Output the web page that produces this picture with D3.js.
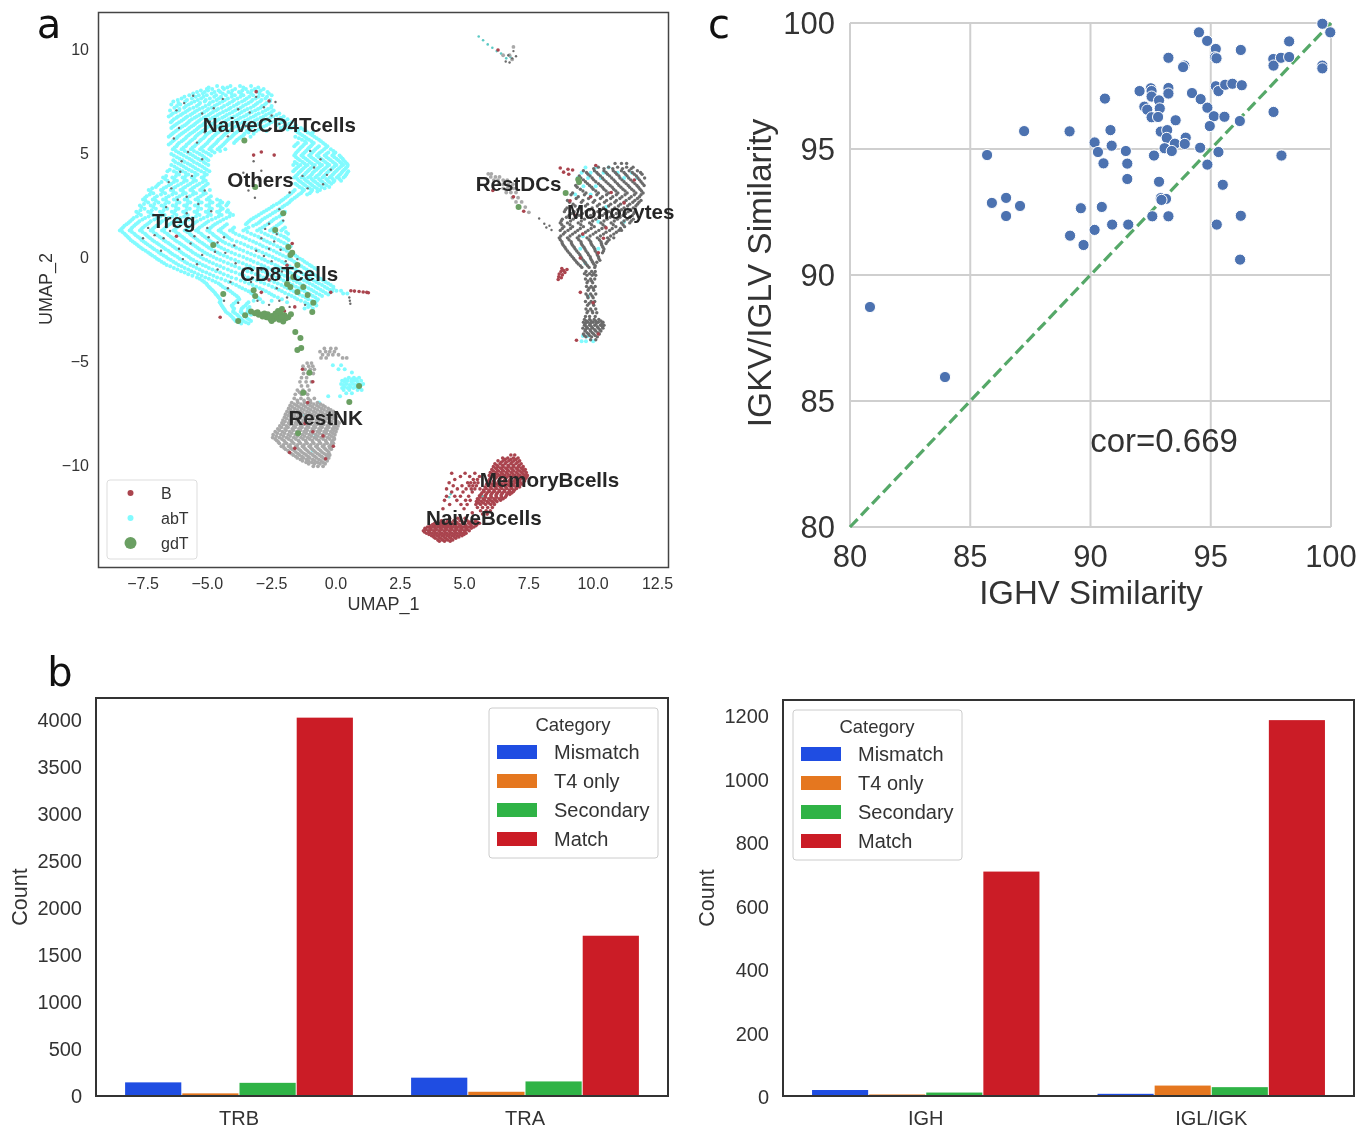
<!DOCTYPE html>
<html><head><meta charset="utf-8">
<script src="https://cdn.jsdelivr.net/npm/d3@7"></script>
<style>html,body{margin:0;background:#fff}svg{display:block;filter:blur(.45px)}</style></head>
<body><svg id="c" width="1368" height="1129"></svg>
<script>
// ---- panel a: UMAP points, as rows [y, x, x, ...]
const abTRows=[
[8.22,-4.62,-4.1,-3.73,-3.3],[8.08,-5.02,-4.81,-4.35,-3.92,-3.5,-3.15,-2.81],[7.93,-5.4,-5.1,-4.72,-4.5,-4.18,-3.77,-3.42,-3.05,-2.66],
[7.78,-5.7,-5.33,-5.02,-4.66,-4.28,-3.93,-3.6,-3.22,-2.85,-2.5],[7.62,-6.0,-5.6,-5.24,-4.9,-4.55,-4.2,-3.83,-3.47,-3.12,-2.74],
[7.47,-6.32,-5.86,-5.5,-5.1,-4.78,-4.41,-4.03,-3.65,-3.3,-2.95,-2.57],[7.33,-6.4,-6.05,-5.72,-5.33,-4.94,-4.62,-4.22,-3.86,-3.5,-3.12,-2.76],
[7.18,-6.28,-5.9,-5.54,-5.18,-4.83,-4.44,-4.09,-3.7,-3.31,-2.93,-2.52],[7.04,-6.45,-6.1,-5.76,-5.4,-5.02,-4.66,-4.27,-3.92,-3.55,-3.14,-2.74,-2.42],
[6.9,-6.34,-5.95,-5.58,-5.22,-4.87,-4.51,-4.13,-3.75,-3.38,-3.0,-2.6,-2.2],[6.76,-6.5,-6.14,-5.78,-5.41,-5.06,-4.7,-4.33,-3.96,-3.58,-3.2,-2.82,-2.44,-2.03],
[6.62,-6.3,-5.92,-5.6,-5.25,-4.9,-4.55,-4.18,-3.8,-3.42,-3.06,-2.66,-2.25,-1.88],[6.48,-6.42,-6.1,-5.74,-5.4,-5.08,-4.72,-4.36,-4.0,-3.63,-3.27,-2.9,-2.5,-2.1,-1.72],
[6.34,-6.26,-5.88,-5.54,-5.2,-4.87,-4.52,-4.17,-3.82,-3.46,-3.1,-2.7,-2.3,-1.95,-1.56],[6.2,-6.4,-6.05,-5.7,-5.36,-5.02,-4.68,-4.34,-4.0,-3.65,-3.3,-2.9,-2.15,-1.74,-1.36],
[6.06,-6.22,-5.85,-5.5,-5.18,-4.84,-4.5,-4.16,-3.8,-3.47,-3.1,-2.7,-1.55,-1.18],[5.92,-6.36,-6.0,-5.66,-5.33,-5.0,-4.65,-4.3,-3.94,-3.55,-3.2,-1.4,-1.0],
[5.78,-6.5,-6.15,-5.8,-5.46,-5.1,-4.78,-4.42,-4.05,-3.68,-3.32,-1.58,-1.22,-.84],[5.64,-6.28,-5.92,-5.58,-5.24,-4.9,-4.56,-4.2,-3.84,-1.32,-1.05,-.66],
[5.48,-6.42,-6.1,-5.72,-5.36,-5.0,-4.66,-4.32,-3.96,-1.48,-1.16,-.86,-.5],[5.33,-6.2,-5.84,-5.5,-5.14,-4.8,-4.45,-1.62,-1.3,-.98,-.66,-.33],
[5.18,-6.34,-6.0,-5.64,-5.28,-4.92,-4.6,-4.3,-1.42,-1.1,-.8,-.46,-.2],[5.03,-6.12,-5.76,-5.4,-5.05,-4.72,-1.54,-1.22,-.92,-.62,-.3,-.02],
[4.88,-6.3,-5.92,-5.56,-5.2,-4.86,-1.62,-1.34,-1.04,-.74,-.44,-.14,.14],[4.72,-6.08,-5.7,-5.36,-5.04,-1.48,-1.18,-.88,-.58,-.28,.02,.26],
[4.57,-6.25,-5.88,-5.52,-5.14,-1.6,-1.3,-1.02,-.72,-.42,-.12,.16,.36],[4.42,-6.4,-6.02,-5.66,-5.3,-4.96,-1.66,-1.38,-1.1,-.82,-.54,-.26,.02,.28,.46],
[4.27,-6.18,-5.82,-5.46,-5.1,-1.54,-1.26,-.98,-.7,-.42,-.14,.12,.38],[4.12,-6.55,-6.3,-5.96,-5.6,-5.24,-4.92,-1.66,-1.38,-1.1,-.84,-.56,-.28,0,.26,.48],
[3.97,-6.1,-5.74,-5.38,-5.02,-1.5,-1.22,-.94,-.66,-.4,-.12,.16,.4],[3.82,-6.72,-6.36,-5.96,-5.6,-5.22,-1.62,-1.34,-1.08,-.8,-.52,-.24,.04,.3],
[3.67,-6.55,-6.18,-5.8,-5.44,-5.06,-1.44,-1.16,-.88,-.6,-.32,-.06,.2],[3.52,-6.88,-6.4,-6.02,-5.66,-5.3,-4.98,-1.58,-1.28,-1,-.72,-.44,-.18],
[3.37,-7.0,-6.6,-6.24,-5.86,-5.5,-5.14,-1.42,-1.12,-.84,-.56,-.26],[3.22,-7.28,-6.8,-6.42,-6.04,-5.66,-5.28,-4.9,-1.6,-1.24,-.92,-.62],
[3.07,-7.1,-6.64,-6.22,-5.84,-5.44,-5.06,-1.74,-1.36,-1.02],[2.92,-7.36,-6.96,-6.5,-6.08,-5.68,-5.26,-4.86,-1.88,-1.52],
[2.77,-7.5,-7.12,-6.72,-6.3,-5.88,-5.46,-5.02,-4.62,-2.05,-1.7],[2.62,-7.3,-6.9,-6.5,-6.08,-5.66,-5.22,-4.8,-4.42,-4.18,-2.2,-1.82],
[2.47,-7.62,-7.2,-6.78,-6.34,-5.9,-5.48,-5.04,-4.6,-4.26,-2.42,-2.0],[2.32,-7.44,-7,-6.56,-6.12,-5.68,-5.24,-4.82,-4.4,-2.6,-2.18],
[2.17,-7.76,-7.3,-6.84,-6.38,-5.94,-5.5,-5.06,-4.62,-4.24,-2.8,-2.36,-1.98],[2.02,-7.58,-7.12,-6.66,-6.2,-5.76,-5.3,-4.86,-4.44,-4.0,-3.0,-2.56,-2.12],
[1.87,-7.86,-7.42,-6.96,-6.5,-6.04,-5.58,-5.14,-4.68,-4.26,-3.2,-2.76,-2.32],[1.72,-8.0,-7.64,-7.2,-6.76,-6.3,-5.86,-5.4,-4.96,-4.5,-3.38,-2.94,-2.5,-2.08],
[1.57,-8.14,-7.78,-7.34,-6.9,-6.46,-6.02,-5.56,-5.12,-4.7,-4.24,-3.5,-3.1,-2.66,-2.22],[1.42,-8.28,-7.92,-7.5,-7.06,-6.62,-6.18,-5.74,-5.3,-4.86,-4.4,-3.96,-3.4,-2.86,-2.4,-1.98],
[1.27,-8.4,-8.02,-7.62,-7.2,-6.76,-6.32,-5.88,-5.44,-5,-4.56,-4.12,-3.6,-3.06,-2.56,-2.12],[1.12,-8.22,-7.84,-7.42,-7,-6.56,-6.12,-5.68,-5.24,-4.8,-4.36,-3.9,-3.3,-2.76,-2.28,-1.86],
[.97,-8.1,-7.7,-7.3,-6.86,-6.42,-5.98,-5.54,-5.1,-4.66,-4.22,-3.62,-3.02,-2.5,-2.02],[.82,-7.98,-7.56,-7.14,-6.7,-6.26,-5.82,-5.38,-4.94,-4.5,-4.04,-3.36,-2.8,-2.24,-1.84],
[.67,-7.82,-7.4,-6.96,-6.52,-6.08,-5.64,-5.2,-4.76,-4.3,-3.7,-3.1,-2.56,-2.02],[.52,-7.66,-7.22,-6.78,-6.34,-5.9,-5.46,-5.02,-4.56,-4.02,-3.42,-2.84,-2.28,-1.76],
[.37,-7.5,-7.06,-6.62,-6.18,-5.74,-5.3,-4.84,-4.34,-3.74,-3.12,-2.56,-2.04],[.22,-7.3,-6.88,-6.44,-6,-5.56,-5.1,-4.6,-4.06,-3.44,-2.86,-2.3,-1.8],
[.07,-7.14,-6.7,-6.26,-5.82,-5.36,-4.88,-4.36,-3.76,-3.16,-2.6,-2.06,-1.58],[-.08,-6.96,-6.52,-6.08,-5.64,-5.16,-4.64,-4.08,-3.46,-2.88,-2.34,-1.82,-1.4],
[-.23,-6.78,-6.32,-5.88,-5.42,-4.92,-4.36,-3.78,-3.2,-2.64,-2.1,-1.62,-1.22],[-.38,-6.58,-6.12,-5.66,-5.18,-4.64,-4.06,-3.48,-2.9,-2.36,-1.9,-1.44,-1.02],
[-.53,-6.3,-5.88,-5.42,-4.94,-4.36,-3.76,-3.2,-2.64,-2.14,-1.68,-1.24,-.84],[-.68,-6.02,-5.62,-5.18,-4.66,-4.06,-3.44,-2.86,-2.38,-1.9,-1.46,-1.02],
[-.83,-5.74,-5.36,-4.9,-4.36,-3.74,-3.12,-2.58,-2.12,-1.68,-1.26,-.86],[-.98,-5.4,-5.08,-4.62,-4.06,-3.42,-2.82,-2.3,-1.88,-1.46,-1.06,-.7],
[-1.13,-5.2,-4.8,-4.3,-3.7,-3.08,-2.56,-2.04,-1.64,-1.24,-.86,-.5],[-1.28,-5.04,-4.56,-4.02,-3.38,-2.78,-2.26,-1.8,-1.4,-1.02,-.66,-.3],
[-1.43,-4.94,-4.4,-3.76,-3.1,-2.48,-2,-1.56,-1.18,-.8,-.44,-.1],[-1.58,-4.82,-4.2,-3.52,-2.84,-2.22,-1.76,-1.34,-.96,-.6,-.24],
[-1.73,-4.7,-4.02,-3.3,-2.6,-1.98,-1.54,-1.12,-.76,-.4],[-1.88,-4.6,-3.86,-3.14,-2.4,-1.72,-1.3,-.9,-.54],
[-2.03,-4.5,-3.76,-2.95,-2.1,-1.5,-1.08,-.7],[-2.18,-4.52,-3.9,-3.4,-2.84,-1.9,-1.2,-.82],
[-2.33,-4.44,-4.05,-3.52,-1.0,-.76],[-2.48,-4.36,-3.96,-3.66,-3.42,-1.22,-.9],
[-2.63,-4.28,-4,-3.7,-3.44],[-2.78,-4.12,-3.84,-3.58,-3.3],[-2.93,-4.0,-3.72,-3.46],[-3.08,-3.9,-3.6,-3.3],[-3.2,-3.68,-3.4],
[-1.62,.02,.2],[-1.76,.28,.44],[-1.5,-.1],
[-5.8,.5,.7,.9],[-5.95,.24,.46,.72,.98],[-6.1,.2,.42,.66,.88,1.06],[-6.25,.34,.56,.78],[-6.4,.3,.52,.84,1.0],[-6.55,.4,.62],
[-5.2,-.12,.2],[-5.4,.1,.34],[-5.55,.62],[-6.7,-.3,.16],[-7.0,-.66],[-7.6,-1.24],[-9.3,-.9],[-9.6,-.3],[-8.6,-.8],
[4.3,9.7,10.1,10.6],[4.05,9.55,9.9,10.4,10.95,11.5],[3.8,9.4,9.8,10.3,11.2,11.7],[3.4,9.62,10.1],[3.0,9.3,9.9],[2.4,9.5,10.5],[1.7,10.2,11.2],[1,9.6],[.4,9.5,10.2],[-.3,9.7],[-1.9,9.8],[-3.8,9.6,9.8],[-4.05,9.55,9.72,10]];
const abTRowsMore=[
[8.15,-4.95,-4.4,-4.22,-3.6,-3.02],[8,-5.25,-4.97,-4.56,-4.03,-3.64,-3.27,-2.92],[7.86,-5.55,-5.17,-4.83,-4.4,-4.06,-3.69,-3.3,-2.97,-2.61],
[7.7,-5.89,-5.45,-5.15,-4.73,-4.47,-4.05,-3.71,-3.37,-3.01,-2.68],[7.55,-6.15,-5.79,-5.37,-5.06,-4.64,-4.32,-3.96,-3.55,-3.24,-2.89,-2.55],
[7.4,-6.12,-5.62,-5.28,-4.9,-4.52,-4.14,-3.78,-3.4,-3.05,-2.7],[7.26,-6.18,-5.83,-5.41,-5.07,-4.72,-4.35,-3.97,-3.61,-3.2,-2.87,-2.5],
[7.11,-6.08,-5.68,-5.3,-4.96,-4.58,-4.16,-3.82,-3.44,-3.03,-2.64],[6.97,-6.22,-5.85,-5.49,-5.12,-4.78,-4.39,-4.02,-3.66,-3.27,-2.85,-2.5],
[6.83,-6.41,-6.03,-5.66,-5.31,-4.95,-4.6,-4.24,-3.84,-3.48,-3.11,-2.72,-2.31],[6.69,-6.2,-5.84,-5.49,-5.14,-4.79,-4.42,-4.07,-3.7,-3.31,-2.93,-2.55,-2.14],
[6.55,-6.36,-6,-5.68,-5.32,-4.98,-4.63,-4.27,-3.9,-3.53,-3.15,-2.76,-2.36,-1.98],[6.41,-6.18,-5.8,-5.47,-5.13,-4.8,-4.45,-4.09,-3.74,-3.38,-3,-2.6,-2.2,-1.82],
[6.27,-6.33,-5.97,-5.62,-5.29,-4.95,-4.6,-4.25,-3.9,-3.55,-3.19,-2.8,-2.02,-1.62],[6.13,-6.14,-5.76,-5.42,-5.1,-4.76,-4.41,-4.07,-3.72,-3.38,-3,-1.88,-1.45,-1.26],
[5.99,-6.3,-5.93,-5.58,-5.26,-4.92,-4.58,-4.23,-3.87,-3.4,-1.48,-1.1,-.9],[5.85,-6.43,-6.08,-5.73,-5.4,-5.06,-4.71,-4.36,-4,-3.6,-1.31,-.92],
[5.71,-6.2,-5.85,-5.5,-5.16,-4.83,-4.48,-4.12,-3.76,-1.44,-1.14,-.75],[5.56,-6.35,-6,-5.66,-5.3,-4.95,-4.61,-4.26,-3.9,-1.2,-.95,-.58],
[5.41,-6.5,-6.16,-5.8,-5.44,-5.07,-4.73,-4.38,-1.55,-1.24,-.92,-.42],[5.26,-6.27,-5.92,-5.57,-5.21,-4.86,-4.52,-1.36,-1.04,-.72,-.38],
[5.1,-6.22,-5.88,-5.52,-5.16,-4.82,-4.5,-1.48,-1.16,-.86,-.54,-.1],[4.95,-6.4,-6.02,-5.66,-5.3,-4.95,-1.58,-1.28,-.98,-.68,-.37,-.08],
[4.8,-6.18,-5.8,-5.46,-5.12,-1.55,-1.26,-.96,-.66,-.36,-.06,.2],[4.65,-6.32,-5.96,-5.6,-5.26,-4.96,-1.4,-1.1,-.8,-.5,-.2,.09,.3],
[4.5,-6.13,-5.76,-5.4,-5.06,-1.52,-1.22,-.94,-.64,-.34,-.04,.22,.42],[4.35,-6.28,-5.92,-5.56,-5.2,-1.46,-1.18,-.9,-.62,-.34,-.06,.2,.44],
[4.2,-6.46,-6.08,-5.72,-5.36,-5.02,-1.6,-1.32,-1.04,-.76,-.48,-.2,.06,.32],[4.05,-6.2,-5.85,-5.48,-5.12,-1.44,-1.16,-.9,-.6,-.34,-.06,.22,.44],
[3.9,-6.6,-6.22,-5.84,-5.48,-5.12,-1.56,-1.28,-1,-.74,-.46,-.18,.1,.36],[3.75,-6.64,-6.28,-5.88,-5.52,-5.14,-1.5,-1.22,-.94,-.66,-.38,-.12,.14],
[3.6,-6.78,-6.3,-5.92,-5.56,-5.18,-1.36,-1.08,-.8,-.52,-.26,-.1],[3.45,-6.94,-6.5,-6.14,-5.76,-5.4,-5.06,-1.5,-1.2,-.92,-.64,-.36],
[3.3,-7.14,-6.7,-6.32,-5.94,-5.58,-5.2,-1.32,-1.02,-.74,-.44],[3.15,-7.2,-6.74,-6.32,-5.94,-5.55,-5.16,-1.66,-1.3,-.96,-.72],
[3,-7.24,-6.8,-6.36,-5.96,-5.56,-5.16,-1.8,-1.44,-1.12],[2.85,-7.42,-7.04,-6.6,-6.18,-5.78,-5.36,-4.94,-1.96,-1.6],
[2.7,-7.4,-7,-6.6,-6.18,-5.76,-5.34,-4.9,-4.5,-2.12,-1.76],[2.55,-7.46,-7.06,-6.64,-6.2,-5.78,-5.35,-4.92,-4.52,-4.22,-2.3,-1.9],
[2.4,-7.56,-7.1,-6.68,-6.22,-5.8,-5.36,-4.92,-4.48,-2.5,-2.08],[2.25,-7.6,-7.16,-6.7,-6.24,-5.82,-5.38,-4.94,-4.5,-4.2,-2.7,-2.26],
[2.1,-7.68,-7.2,-6.74,-6.28,-5.84,-5.4,-4.96,-4.54,-4.12,-2.9,-2.46,-2.04],[1.95,-7.74,-7.28,-6.82,-6.36,-5.9,-5.44,-5,-4.56,-4.14,-3.1,-2.66,-2.2],
[1.8,-7.92,-7.52,-7.06,-6.62,-6.16,-5.72,-5.26,-4.82,-4.38,-3.3,-2.86,-2.42],[1.65,-8.06,-7.7,-7.26,-6.82,-6.38,-5.92,-5.48,-5.04,-4.6,-3.44,-3,-2.58,-2.14],
[1.5,-8.22,-7.84,-7.42,-6.98,-6.54,-6.1,-5.64,-5.2,-4.78,-4.32,-3.22,-2.76,-2.3],[1.35,-8.34,-7.96,-7.56,-7.12,-6.68,-6.24,-5.8,-5.36,-4.92,-4.48,-4.02,-3.5,-2.96,-2.48,-2.06],
[1.2,-8.3,-7.93,-7.52,-7.1,-6.66,-6.22,-5.78,-5.34,-4.9,-4.46,-4,-3.44,-2.9,-2.42,-1.94],[1.05,-8.16,-7.78,-7.36,-6.94,-6.5,-6.06,-5.62,-5.18,-4.74,-4.28,-3.76,-3.16,-2.64,-2.14],
[.9,-8.04,-7.62,-7.22,-6.78,-6.34,-5.9,-5.46,-5.02,-4.58,-4.14,-3.5,-2.92,-2.38,-1.92],[.75,-7.9,-7.48,-7.06,-6.62,-6.18,-5.74,-5.3,-4.86,-4.4,-3.86,-3.22,-2.68,-2.14],
[.6,-7.74,-7.32,-6.88,-6.44,-6,-5.56,-5.12,-4.66,-4.16,-3.56,-2.96,-2.42,-1.9],[.45,-7.58,-7.14,-6.7,-6.26,-5.82,-5.38,-4.94,-4.46,-3.88,-3.28,-2.7,-2.16],
[.3,-7.4,-6.96,-6.52,-6.08,-5.64,-5.2,-4.72,-4.2,-3.6,-3,-2.42,-1.92],[.15,-7.22,-6.8,-6.36,-5.92,-5.46,-5,-4.5,-3.92,-3.3,-2.72,-2.18,-1.68],
[0,-7.04,-6.6,-6.16,-5.72,-5.26,-4.76,-4.22,-3.6,-3,-2.46,-1.94,-1.5],[-.15,-6.88,-6.42,-5.98,-5.54,-5.04,-4.5,-3.92,-3.32,-2.76,-2.22,-1.72,-1.3],
[-.3,-6.68,-6.22,-5.78,-5.3,-4.78,-4.2,-3.62,-3.04,-2.5,-2,-1.54,-1.12],[-.45,-6.44,-6,-5.54,-5.06,-4.5,-3.92,-3.34,-2.78,-2.26,-1.8,-1.34,-.94],
[-.6,-6.16,-5.74,-5.3,-4.8,-4.2,-3.6,-3.02,-2.5,-2.02,-1.56,-1.14,-.74],[-.75,-5.88,-5.5,-5.04,-4.5,-3.9,-3.28,-2.72,-2.24,-1.78,-1.36,-.94],
[-.9,-5.58,-5.22,-4.76,-4.2,-3.58,-2.96,-2.44,-2,-1.56,-1.14,-.78],[-1.05,-5.3,-4.94,-4.46,-3.88,-3.24,-2.68,-2.16,-1.76,-1.34,-.96,-.6],
[-1.2,-5.12,-4.68,-4.16,-3.54,-2.92,-2.4,-1.92,-1.52,-1.12,-.76,-.4],[-1.35,-5,-4.48,-3.88,-3.24,-2.62,-2.12,-1.68,-1.28,-.9,-.54,-.2],
[-1.5,-4.88,-4.3,-3.64,-2.96,-2.34,-1.88,-1.44,-1.06,-.7,-.34],[-1.65,-4.76,-4.1,-3.4,-2.72,-2.1,-1.64,-1.22,-.86,-.5,-.14],
[-1.8,-4.66,-3.94,-3.22,-2.5,-1.84,-1.42,-1,-.64,-.3],[-1.95,-4.56,-3.8,-3.04,-2.26,-1.6,-1.18,-.8],
[-2.1,-4.48,-3.84,-3.2,-2.5,-1.36,-.94,-.74],[-2.25,-4.48,-3.98,-3.46,-1.1,-.8],[-2.4,-4.4,-4.02,-3.6,-3.36,-1.08],[-2.55,-4.32,-3.98,-3.68,-3.4],[-2.7,-4.2,-3.92,-3.64,-3.36],[-2.85,-4.06,-3.78,-3.52],[-3,-3.95,-3.66,-3.38],[-3.14,-3.78,-3.5],
[-6,.34,.6,.84],[-6.15,.3,.54,.76,.98],[-6.3,.24,.46,.68,.92],[-5.88,.36,.62,.8]];
const grayDarkPts=[[-5.9,7.4],[-5.2,6.9],[-4.4,7.6],[-3.8,7.1],[-3.1,7.7],[-2.8,7.2],[-2.5,6.8],[-6.1,6.2],[-5.4,5.5],[-4.9,6.5],[-3.5,6.3],[-2.2,6.4],[-6,4.6],[-5.6,3.9],[-5.2,4.7],[-6.4,3.3],[-5.8,2.9],[-6.6,2.4],[-5.1,3.2],[-6.9,1.9],[-6.3,1.5],[-5.8,2.1],[-7.3,1.4],[-6.7,.9],[-6.1,.4],[-5.5,1],[-5,1.4],[-4.6,.7],[-4.3,.2],[-5.2,.1],[-6.8,.3],[-7.5,.9],[-3.9,-.3],[-4.6,-.6],[-2.9,.9],[-2.6,.4],[-2.3,1.1],[-2.5,-.2],[-2.9,-.6],[-2.1,-.7],[-3.3,-1.2],[-2.3,-1.5],[-4.2,-1.5],[-3.8,-2.2],[-2.2,-2.1],[-1.8,-2.4],[-1,5.1],[-.6,4.7],[-.2,4.2],[-1.3,3.9],[-.5,3.5],[-3.2,4.6],[-3,3.7],[-3.4,3.2],[-2.2,2.3],[-2.6,1.6],[.52,-1.95],[.54,-2.1],[.56,-2.25],[-2.05,1.75],[-3.1,.3],[-1.5,-.1],
[-5.55,7.75],[-4.75,7.15],[-6.2,7.05],[-2.35,7.45],[-3.35,6.95],[-6.3,5.7],[-5.75,5.05],[-6.05,4.1],[-6.5,3.6],[-5.35,2.55],[-4.85,2.2],[-6.15,2.75],[-7.05,1.05],[-6.45,1.25],[-5.65,.65],[-4.95,.95],[-4.7,.25],[-5.95,-.1],[-5.4,-.35],[-4.35,.95],[-3.95,.55],[-2.75,1.35],[-2.4,.75],[-2.15,.35],[-2.8,.05],[-2.25,-.95],[-2.7,-1.05],[-1.95,-.2],[-4.35,-2.1],[-4.1,-1.2],[-3.05,-2.1],[-2.6,-2.3],[-.85,4.3],[-.35,3.95],[-1.1,3.3],[-3.6,4.05],[-2.9,4.15],[-3.15,2.85],[-1.8,3.1],[-1.9,-1.95],[-1.2,-2.3],[-5.1,6],[-4.2,5.8],
[6.7,9.7],[6.85,9.55],[7,9.65],[6.6,9.4],[6.75,9.35],[6.9,9.9],
[7.9,1.85],[8.1,1.6],[8.3,1.5],[8.38,1.3],[8.18,1.42]];
const monoRows=[
[4.5,10.85,11.1,11.3],[4.32,10.2,10.6,10.95,11.3,11.55],[4.15,9.62,10.05,10.42,10.78,11.1,11.4,11.72],[3.98,9.8,10.2,10.56,10.92,11.26,11.6,11.9],
[3.8,9.52,9.96,10.36,10.72,11.04,11.38,11.74,12],[3.62,9.7,10.1,10.5,10.86,11.2,11.54,11.86],[3.44,9.32,9.86,10.28,10.66,11,11.36,11.7,11.98],
[3.26,9.5,10,10.42,10.8,11.16,11.5,11.82],[3.08,9.2,9.72,10.2,10.6,10.96,11.32,11.66,11.94],[2.9,9.42,9.9,10.36,10.76,11.12,11.48,11.8],
[2.72,9,9.6,10.06,10.52,10.9,11.28,11.62,11.86],[2.54,9.22,9.78,10.24,10.68,11.06,11.42,11.72],[2.36,8.98,9.5,9.96,10.4,10.84,11.2,11.56],
[2.18,8.88,9.26,9.72,10.18,10.6,11,11.36,11.62],[2,9.06,9.46,9.9,10.36,10.78,11.16,11.52],[1.82,8.8,9.22,9.66,10.1,10.54,10.94,11.32,11.56],
[1.64,8.72,9,9.42,9.86,10.3,10.7,11.1,11.42],[1.46,8.86,9.2,9.62,10.04,10.46,10.88,11.22],[1.28,8.72,9.02,9.4,9.8,10.22,10.64,11,11.1],
[1.1,8.84,9.2,9.58,10,10.4,10.8],[.92,8.68,9,9.38,9.76,10.16,10.56,10.8],[.74,8.78,9.14,9.52,9.9,10.3,10.55],[.56,8.84,9.2,9.58,9.96,10.34],
[.38,8.94,9.3,9.68,10.06,10.42],[.2,9.06,9.42,9.78,10.14,10.36],[.02,9.18,9.52,9.88,10.2],[-.16,9.3,9.62,9.94,10.26],[-.34,9.42,9.72,10.02],[-.5,9.56,9.84,10.06],
[-.7,9.72,9.94,10.08],[-.88,9.76,9.96,10.1],[-1.06,9.7,9.9,10.06],[-1.24,9.76,9.98],[-1.42,9.74,9.92,10.08],[-1.6,9.8,10.02],[-1.78,9.72,9.9,10.1],
[-1.96,9.8,10],[-2.14,9.7,9.92,10.06],[-2.32,9.78,10.02],[-2.5,9.72,9.9,10.1],[-2.68,9.76,9.98,10.14],[-2.86,9.7,9.86,10.08],[-3,9.66,9.86,10.04,10.22],
[-3.14,9.62,9.8,10,10.2,10.38],[-3.28,9.66,9.86,10.06,10.28,10.42],[-3.42,9.6,9.78,9.98,10.2,10.38],[-3.56,9.68,9.9,10.1,10.3],[-3.7,9.62,9.82,10.02,10.24],[-3.84,9.72,9.94,10.16],[-3.98,9.9,10.1],
[4.25,10.02,10.42,10.76,11.14,11.48],[4.06,9.74,10.14,10.5,10.86,11.2,11.52,11.84],[3.9,9.46,9.88,10.28,10.64,11,11.32,11.68],[3.71,9.62,10.02,10.42,10.8,11.12,11.46,11.8],[3.53,9.44,9.78,10.2,10.58,10.94,11.28,11.62,11.92],
[3.35,9.38,9.94,10.36,10.74,11.08,11.42,11.76],[3.17,9.6,10.1,10.5,10.88,11.24,11.58,11.88],[2.99,9.14,9.66,10.14,10.52,10.9,11.24,11.6,11.86],[2.81,9.34,9.82,10.28,10.68,11.04,11.4,11.72],[2.63,9.08,9.54,10,10.44,10.84,11.2,11.54,11.78],
[2.45,9.3,9.7,10.16,10.6,10.98,11.34,11.66],[2.27,8.92,9.4,9.86,10.3,10.74,11.1,11.46],[2.09,9.16,9.58,10.02,10.46,10.9,11.26,11.58],[1.91,8.96,9.34,9.8,10.22,10.66,11.04,11.42],[1.73,8.76,9.12,9.54,9.98,10.42,10.82,11.2,11.48],
[1.55,8.78,9.1,9.52,9.94,10.38,10.78,11.16],[1.37,8.8,9.12,9.5,9.92,10.34,10.74,11.06],[1.19,8.9,9.3,9.7,10.1,10.5,10.9],[1.01,8.74,9.1,9.46,9.88,10.28,10.68],[.83,8.72,9.06,9.44,9.84,10.24,10.62],
[.65,8.8,9.16,9.54,9.92,10.32,10.5],[.47,8.9,9.26,9.64,10.02,10.38],[.29,9,9.36,9.72,10.08,10.4],[.11,9.12,9.48,9.82,10.16],[-.07,9.24,9.56,9.9,10.22],[-.25,9.36,9.68,9.98,10.14],[-.42,9.5,9.78,10.08],
[-.8,9.66,9.86,10.02],[-1.15,9.8,9.94],[-1.5,9.84,10],[-1.87,9.78,9.96],[-2.23,9.84,10],[-2.6,9.8,9.96],[-3.08,9.74,9.92,10.1,10.3],[-3.2,9.7,9.9,10.12,10.34],[-3.35,9.74,9.94,10.16,10.36],[-3.5,9.7,9.88,10.06,10.26],[-3.64,9.76,9.96,10.18],[-3.78,9.66,9.86,10.08]];
const nkRows=[
[-4.4,-.45,-.2,0],[-4.55,-.62,-.4,-.24,-.06],[-4.7,-.52,-.3,-.12,.1],[-4.85,-.58,-.38,.26,.42],
[-5.1,-1.12,-.95],[-5.25,-1.28,-1.06,-.9],[-5.4,-1.2,-1,-.84],[-5.6,-1.26,-1.08,-.88],[-5.8,-1.34,-1.14],[-6,-1.4,-1.16,-.95],[-6.2,-1.34,-1.1],[-6.4,-1.5,-1.28,-1.04],[-6.6,-1.58,-1.34,-1.1],[-6.8,-1.62,-1.36,-1.08,-.84],
[-7,-1.72,-1.48,-1.22,-.98,-.72],[-7.14,-1.78,-1.52,-1.26,-1,-.74,-.5],[-7.28,-1.84,-1.6,-1.34,-1.08,-.82,-.56,-.3],[-7.42,-1.9,-1.64,-1.38,-1.12,-.86,-.6,-.34,-.1],
[-7.56,-1.96,-1.7,-1.44,-1.18,-.92,-.66,-.4,-.14],[-7.7,-2,-1.74,-1.48,-1.22,-.96,-.7,-.44,-.18,.02],[-7.84,-2.06,-1.8,-1.54,-1.28,-1.02,-.76,-.5,-.24,0],
[-7.98,-2.1,-1.84,-1.58,-1.32,-1.06,-.8,-.54,-.28,-.02,.12],[-8.12,-2.18,-1.92,-1.64,-1.38,-1.12,-.86,-.6,-.34,-.08,.08],[-8.26,-2.26,-1.98,-1.7,-1.44,-1.18,-.92,-.66,-.4,-.14,.04],
[-8.4,-2.36,-2.08,-1.8,-1.52,-1.24,-.98,-.72,-.46,-.2,0],[-8.54,-2.44,-2.14,-1.86,-1.58,-1.3,-1.04,-.78,-.52,-.26,-.04],[-8.68,-2.46,-2.2,-1.92,-1.64,-1.36,-1.1,-.84,-.58,-.32,-.08],
[-8.82,-2.3,-2.02,-1.74,-1.46,-1.18,-.92,-.66,-.4,-.12],[-8.96,-2.2,-1.92,-1.64,-1.38,-1.12,-.86,-.6,-.34,-.1],[-9.1,-2.12,-1.84,-1.56,-1.3,-1.04,-.78,-.52,-.26,-.14],
[-9.24,-1.96,-1.7,-1.44,-1.18,-.92,-.66,-.4,-.18],[-9.38,-1.82,-1.56,-1.32,-1.06,-.8,-.54,-.28],[-9.52,-1.66,-1.42,-1.16,-.9,-.64,-.38,-.24],
[-9.66,-1.5,-1.26,-1.02,-.76,-.5,-.28],[-9.8,-1.3,-1.06,-.82,-.58,-.34],[-9.94,-1.06,-.84,-.62,-.42],[-10.06,-.88,-.7,-.5],
[-7.07,-1.62,-1.36,-1.1,-.86,-.6],[-7.21,-1.7,-1.44,-1.18,-.92,-.66,-.42],[-7.35,-1.76,-1.5,-1.24,-.98,-.72,-.46,-.2],[-7.49,-1.82,-1.56,-1.3,-1.04,-.78,-.52,-.26],[-7.63,-1.86,-1.6,-1.34,-1.08,-.82,-.56,-.3,-.06],[-7.77,-1.92,-1.66,-1.4,-1.14,-.88,-.62,-.36,-.1],
[-7.91,-1.98,-1.72,-1.46,-1.2,-.94,-.68,-.42,-.16,.06],[-8.05,-2.04,-1.78,-1.52,-1.26,-1,-.74,-.48,-.22,.02],[-8.19,-2.12,-1.86,-1.58,-1.32,-1.06,-.8,-.54,-.28,-.04],[-8.33,-2.2,-1.94,-1.66,-1.38,-1.12,-.86,-.6,-.34,-.08],[-8.47,-2.28,-2,-1.72,-1.44,-1.16,-.9,-.64,-.38,-.12],[-8.61,-2.32,-2.04,-1.78,-1.5,-1.22,-.96,-.7,-.44,-.18],
[-8.75,-2.36,-2.1,-1.84,-1.56,-1.28,-1.02,-.76,-.5,-.24,-.06],[-8.89,-2.24,-1.98,-1.7,-1.42,-1.16,-.9,-.64,-.38,-.16],[-9.03,-2.04,-1.78,-1.5,-1.24,-.98,-.72,-.46,-.2],[-9.17,-2.02,-1.76,-1.5,-1.24,-.98,-.72,-.46,-.24],[-9.31,-1.86,-1.62,-1.38,-1.12,-.86,-.6,-.34],[-9.45,-1.74,-1.48,-1.24,-.98,-.72,-.46,-.28],[-9.59,-1.56,-1.32,-1.08,-.82,-.56,-.32],[-9.73,-1.38,-1.14,-.9,-.66,-.42],[-9.87,-1.16,-.94,-.72,-.5],[-6.5,-1.42,-1.2],[-6.9,-1.5,-1.24,-1],
[4,5.92,6.04],[3.85,6.02,6.2,6.36],[3.7,6.14,6.3,6.5,6.66],[3.5,6.32,6.5,6.7,6.88],[3.3,6.5,6.68,6.9],[3.1,6.62,6.8,7],[2.85,6.86,7.08],[2.65,7,7.22],[2.4,7.36],[2.15,7.5],
[10.1,6.9],[9.7,6.5,6.75],[9.5,6.85]];
const bRows=[
[-9.52,6.8,6.95],[-9.66,6.48,6.68,6.9,7.08],[-9.8,6.3,6.5,6.72,6.92,7.14],[-9.94,6.18,6.38,6.58,6.8,7,7.2],[-10.08,6.12,6.3,6.5,6.7,6.9,7.1,7.28],
[-10.22,6.06,6.26,6.46,6.66,6.86,7.06,7.26,7.36],[-10.36,6,6.22,6.42,6.62,6.82,7.02,7.22,7.4],[-10.5,5.96,6.16,6.36,6.56,6.76,6.96,7.16,7.36,7.44],
[-10.64,6,6.2,6.4,6.6,6.8,7,7.2,7.38],[-10.78,5.92,6.12,6.32,6.52,6.72,6.92,7.12,7.32],[-10.92,5.86,6.06,6.26,6.46,6.66,6.86,7.06,7.24],
[-11.06,5.8,6,6.2,6.4,6.6,6.8,7,7.14],[-11.2,5.74,5.94,6.14,6.34,6.54,6.74,6.94],[-11.34,5.68,5.88,6.08,6.28,6.48,6.68,6.84],
[-11.48,5.58,5.8,6.02,6.22,6.42,6.62],[-11.62,5.5,5.72,5.94,6.14,6.34,6.5],[-11.76,5.46,5.66,5.88,6.08,6.26],[-11.9,5.44,5.62,5.82,6.02,6.16],[-12.04,5.5,5.7,5.9,6.08],[-12.2,5.62,5.84,6],[-12.36,5.7,5.88],
[-9.73,6.58,6.8,7],[-9.87,6.42,6.62,6.84,7.06],[-10.01,6.26,6.48,6.7,6.9,7.12],[-10.15,6.2,6.4,6.6,6.8,7,7.2],[-10.29,6.12,6.32,6.52,6.72,6.92,7.14,7.32],[-10.43,6.08,6.28,6.48,6.68,6.88,7.08,7.28],[-10.57,6.06,6.26,6.46,6.66,6.86,7.06,7.28,7.42],[-10.71,5.96,6.16,6.36,6.56,6.76,6.96,7.16,7.34],[-10.85,5.98,6.18,6.38,6.58,6.78,6.98,7.18],[-10.99,5.92,6.12,6.32,6.52,6.72,6.92,7.12],[-11.13,5.84,6.04,6.24,6.44,6.64,6.84,7.02],[-11.27,5.76,5.96,6.16,6.36,6.56,6.76,6.9],[-11.41,5.64,5.84,6.04,6.24,6.44,6.64,6.76],[-11.55,5.6,5.82,6.04,6.24,6.44,6.58],[-11.69,5.56,5.78,6,6.2,6.4],[-11.83,5.54,5.74,5.94,6.14],
[-10.4,4.5,5.02,5.4],[-10.55,4.84,5.2,5.58],[-10.7,4.62,5.34,5.5],[-10.85,4.4,5.12,5.24,5.38,5.52],[-11,4.56,4.9,5.18,5.32,5.46],[-11.15,4.3,4.72,5.06,5.26,5.4,5.6],[-11.3,4.5,4.94,5.3],[-11.5,4.3,4.62,4.84,5.16],[-11.7,4.22,4.7,5.04,5.22],[-11.9,4.42,4.86,5.1],[-12.1,4.16,4.98],[-12.3,5.3],
[-12.56,4.42,4.74,5.02],[-12.68,4.1,4.34,4.58,4.82,5.1,5.42],[-12.8,3.84,4.06,4.28,4.5,4.72,4.94,5.16,5.38,5.58],[-12.92,3.66,3.86,4.06,4.26,4.46,4.66,4.86,5.06,5.26,5.44],
[-13.04,3.46,3.66,3.86,4.06,4.26,4.46,4.66,4.86,5.06,5.26],[-13.16,3.4,3.6,3.8,4,4.2,4.4,4.6,4.8,5,5.18],[-13.28,3.52,3.72,3.92,4.12,4.32,4.52,4.72,4.92,5.06],
[-13.4,3.72,3.92,4.12,4.32,4.52,4.72,4.9],[-13.52,3.86,4.06,4.26,4.46,4.66],[-13.66,4.02,4.22,4.44],
[-12.74,3.96,4.2,4.44,4.68,4.92,5.2,5.5],[-12.86,3.76,3.96,4.16,4.36,4.58,4.8,5.02,5.24,5.48],[-12.98,3.56,3.76,3.96,4.16,4.36,4.56,4.76,4.96,5.16,5.36],[-13.1,3.5,3.7,3.9,4.1,4.3,4.5,4.7,4.9,5.1],[-13.22,3.44,3.64,3.84,4.04,4.24,4.44,4.64,4.84,5.02],[-13.34,3.62,3.82,4.02,4.22,4.42,4.62,4.82,4.98],[-13.46,3.8,4,4.2,4.4,4.6,4.78],[-13.6,3.96,4.14,4.34,4.54]];
const bPts=[[8.78,-.55],[8.85,-.65],[8.75,-.7],[8.9,-.74],[8.68,-.82],[8.8,-.86],[8.66,-.95],[8.76,-1],[8.64,-1.08],[8.98,-.6],
[8.72,4.28],[9.02,4.22],[9.2,4.18],[8.85,4.08],[9.05,3.98],[9.3,2.0],[10.5,1.4],[11.2,2.6],[10.1,4.4],[9.6,1.1],[10.2,.2],[9.5,-.05],[9.5,-1.7],[9.35,-4],[10,-2.2],[10.2,-3.7],[10.7,3.1],[9.9,2.9],[11.6,3.7],[10.4,.9],[9.1,2.7],
[.58,-1.62],[.72,-1.64],[.9,-1.66],[1.06,-1.68],[1.2,-1.7],[1.26,-1.72],[6.1,3.2],[6.9,2.9],[7.3,2.2],[6.3,9.95],[-.9,-6],[-1.1,-7],[-1.3,-5.4],[-.9,-8.4],[-.4,-9.7],[-1.6,-9.2],[-1.2,-8],[-.5,-8.6],[-.1,-9.1],[-1.8,-9.4],
[-3.2,4.9],[-2.9,5.05],[-2.4,4.9],[-6.2,1],[-4.5,-2.9],[-2,-2.6],[-1.6,-2.4],[-2.9,-1.7],[-2.6,-1.1],[-1.7,.65],[-1.9,-.4],[-3.1,7.95],[-2.6,7.5],[-.2,-1.7]];
const gdTPts=[[-3.56,5.6],[-3.14,3.36],[-2.05,2.1],[-2.36,1.3],[-1.85,.48],[-1.77,.1],[-1.7,.2],[-4.77,.58],[-1.5,-.38],[-1.66,-.96],[-1.9,-1.3],[-1.77,-1.44],[-1.27,-1.44],[-1.5,-1.68],[-1.1,-1.83],[-.88,-2.2],[-.92,-2.64],[-4.38,-1.78],[-3.2,-1.6],[-3.14,-1.87],[-3.8,-3.08],[-3.53,-2.8],[-3.3,-2.62],[-3.15,-2.7],[-3,-2.78],[-2.85,-2.86],[-2.7,-2.9],[-2.55,-2.98],[-2.4,-2.98],[-2.3,-2.86],[-2.15,-2.72],[-2,-2.8],[-1.85,-2.9],[-2.2,-3.02],[-2.05,-3.1],[-2.1,-2.5],[-2.65,-2.75],[-3.05,-2.66],[-2.9,-2.76],[-2.78,-2.72],[-2.48,-2.84],[-2.35,-2.72],[-2.25,-2.6],[-1.95,-2.95],[-2.12,-2.88],[-2.5,-3.08],[-2.6,-2.88],[-1.75,-2.75],[-1.58,-3.6],[-1.38,-3.9],[-1.5,-4.47],[-1.35,-4.38],[-1.03,-5.56],[-1.27,-6.53],[-1.47,-8.47],[.9,-6.2],[.52,-6.97],[7.1,2.4],[9.45,3.6],[9.42,3.72],[8.93,3.08]];
const legendGroups=["B","abT","gdT"];
const clusterLabels=["NaiveCD4Tcells","Others","Treg","CD8Tcells","RestDCs","Monocytes","RestNK","MemoryBcells","NaiveBcells"];
const clusterX=[-2.2,-2.93,-6.3,-1.82,7.1,11.07,-.4,8.3,5.75];
const clusterY=[6.37,3.72,1.77,-.77,3.54,2.2,-7.7,-10.72,-12.52];
const tealPts=[[5.55,10.6],[5.72,10.42],[5.9,10.22],[6.08,10.06],[6.25,9.9],[6.42,9.78],[6.62,9.55],[6.78,9.62],[4.4,-11.55],[4.46,-11.4],[5.28,-11.2],[5.7,-11.5]];
const umapXTicks=[-7.5,-5,-2.5,0,2.5,5,7.5,10,12.5];
const umapYTicks=[10,5,0,-5,-10];
// ---- panel c
const ighv=[94.51,94.85,95.21,95.18,95.24,96.25,93.24,93.9,93.85,98.26,97.6,97.61,97.92,98.26,99.64,99.97,99.64,99.64,92.04,90.6,92.51,92.54,92.54,93.24,93.24,92.85,92.24,92.36,92.88,92.54,92.81,93.54,94.22,94.58,94.86,95.13,95.57,94.96,95.21,95.32,95.6,95.9,96.29,96.21,97.61,89.13,90.83,90.17,90.88,90.31,90.54,91.47,91.53,91.53,92.64,92.92,93.19,93.17,93.51,93.96,93.92,93.08,93.38,94.56,95.32,94.86,97.94,92.85,95.5,92.92,93.14,92.95,89.6,90.47,92.57,93.24,96.25,90.9,91.57,90.17,95.25,89.15,89.71,96.22,80.83,83.95,85.7,85.9,86.49,86.49,87.07,87.24];
const igkv=[99.63,99.29,98.97,98.64,98.6,98.93,98.62,98.31,98.25,99.27,98.57,98.31,98.62,98.65,99.97,99.63,98.31,98.2,97.3,97,97.41,97.3,97.08,97.42,97.2,96.93,96.68,96.56,96.61,96.26,96.27,96.14,97.22,96.98,96.64,96.3,96.28,95.91,97.49,97.3,97.55,97.59,97.53,96.11,96.47,95.7,95.75,95.26,95.13,94.88,94.43,94.92,94.42,93.81,94.74,95.69,95.75,95.44,95.21,95.45,95.2,95.03,94.92,95.05,94.88,94.38,94.74,93.7,93.58,93.05,93.02,92.98,92.65,92.7,92.33,92.33,92.35,92,92,91.79,92,91.56,91.19,90.61,88.73,85.95,94.76,92.86,93.06,92.34,92.74,95.71];
const simTicks=[80,85,90,95,100];
// ---- panel b
const categories=["Mismatch","T4 only","Secondary","Match"];
const catColors=["#1f4de2","#e5771f","#2fb346","#cb1c26"];
const tGenes=["TRB","TRA"];
const tMismatch=[145,195],tT4=[28,45],tSecondary=[140,155],tMatch=[4025,1705];
const bGenes=["IGH","IGL/IGK"];
const bMismatch=[22,10],bT4=[8,36],bSecondary=[14,31],bMatch=[710,1187];
const tTicks=d3.range(0,4001,500), bTicks=d3.range(0,1201,200);

const svg=d3.select("#c");
const SANS="'Liberation Sans',Arial,sans-serif", DJ="'DejaVu Sans',sans-serif", INK="#333";
const text=(g,x,y,s,size,o={})=>g.append("text").attr("x",x).attr("y",y).text(s)
  .attr("font-family",o.f||SANS).attr("font-size",size).attr("fill",o.c||INK).attr("font-weight",o.w||"normal")
  .attr("text-anchor",o.a||"middle").attr("dominant-baseline",o.b||"central").attr("transform",o.r?`rotate(${o.r} ${x} ${y})`:null);
const rowsToPts=rows=>rows.flatMap(r=>r.slice(1).map(x=>[x,r[0]]));

text(svg,49,38,"a",40,{f:DJ,c:"#111",b:"auto"});text(svg,60,686,"b",40,{f:DJ,c:"#111",b:"auto"});text(svg,719,38,"c",40,{f:DJ,c:"#111",b:"auto"});

// panel a
const ax=d3.scaleLinear().domain([-7.5,12.5]).range([143,657.5]);
const ay=d3.scaleLinear().domain([10,-10]).range([49,465]);
const pa=svg.append("g");
const dots=(pts,r,c,o=1)=>pa.append("g").selectAll("circle").data(pts).join("circle")
  .attr("cx",d=>ax(d[0])).attr("cy",d=>ay(d[1])).attr("r",r).attr("fill",c).attr("opacity",o);
dots(rowsToPts(abTRows).concat(rowsToPts(abTRowsMore)),2,"#82fbff");
dots(tealPts,1.3,"#5cc9c4");
dots(rowsToPts(nkRows),1.9,"#a9a9a9");
dots(rowsToPts(monoRows),1.7,"#6b6b6b");
dots(grayDarkPts,1.2,"#6b6b6b");
dots(rowsToPts(bRows).concat(bPts),1.8,"#aa444e");
dots(gdTPts,3,"#6a9f62");
pa.append("rect").attr("x",98.5).attr("y",12.5).attr("width",570).attr("height",555).attr("fill","none").attr("stroke","#444").attr("stroke-width",1.5);
umapXTicks.forEach(t=>text(pa,ax(t),583,t<0?"\u2212"+(-t).toFixed(1):t.toFixed(1),16));
umapYTicks.forEach(t=>text(pa,89,ay(t),t<0?"\u2212"+(-t):t,16,{a:"end"}));
text(pa,383.5,604,"UMAP_1",18);
text(pa,46,289,"UMAP_2",18,{r:-90});
clusterLabels.forEach((s,i)=>text(pa,ax(clusterX[i]),ay(clusterY[i]),s,20.6,{w:"bold",c:"#262626"}));
pa.append("rect").attr("x",107).attr("y",480).attr("width",90).attr("height",79).attr("rx",3).attr("fill","#fff").attr("stroke","#ddd");
const legC=["#aa444e","#82fbff","#6a9f62"],legR=[3,3,6];
legendGroups.forEach((s,i)=>{const y=493+i*25;
  pa.append("circle").attr("cx",130.5).attr("cy",y).attr("r",legR[i]).attr("fill",legC[i]);
  text(pa,161,y,s,16,{a:"start"});});

// panel c
const cx=d3.scaleLinear().domain([80,100]).range([850,1331]);
const cy=d3.scaleLinear().domain([80,100]).range([527,23]);
const pc=svg.append("g");
simTicks.forEach(t=>{
  pc.append("line").attr("x1",cx(t)).attr("x2",cx(t)).attr("y1",cy(80)).attr("y2",cy(100)).attr("stroke","#cfcfcf").attr("stroke-width",2);
  pc.append("line").attr("x1",cx(80)).attr("x2",cx(100)).attr("y1",cy(t)).attr("y2",cy(t)).attr("stroke","#cfcfcf").attr("stroke-width",2);
  text(pc,cx(t),556,t,31);
  text(pc,835,cy(t),t,31,{a:"end"});
});
pc.append("line").attr("x1",cx(80)).attr("y1",cy(80)).attr("x2",cx(100)).attr("y2",cy(100)).attr("stroke","#55a868").attr("stroke-width",3.2).attr("stroke-dasharray","11 5");
pc.append("g").selectAll("circle").data(ighv).join("circle").attr("cx",d=>cx(d)).attr("cy",(d,i)=>cy(igkv[i])).attr("r",5.6).attr("fill","#4c72b0").attr("stroke","#fff").attr("stroke-width",1);
text(pc,1091,592,"IGHV Similarity",33);
text(pc,759,273,"IGKV/IGLV Similarity",33.5,{r:-90});
text(pc,1164,440,"cor=0.669",33);

// panel b
function bars(o){
  const g=svg.append("g");
  const x=d3.scaleBand().domain(o.genes).range([o.L+o.pad,o.L+o.pad+o.band*2]);
  const y=d3.scaleLinear().domain([0,o.max]).range([o.y0,o.yM]);
  const w=o.band*.8/4;
  o.series.forEach((vals,k)=>g.append("g").selectAll("rect").data(vals).join("rect")
    .attr("x",(d,i)=>x(o.genes[i])+o.band*.1+k*w+.5).attr("width",w-1).attr("y",d=>y(d)).attr("height",d=>o.y0-y(d)).attr("fill",catColors[k]));
  g.append("rect").attr("x",o.L).attr("y",o.T).attr("width",o.R-o.L).attr("height",o.B-o.T).attr("fill","none").attr("stroke","#333").attr("stroke-width",2);
  o.ticks.forEach(t=>text(g,o.L-14,y(t),t,20,{a:"end"}));
  o.genes.forEach(s=>text(g,x(s)+o.band/2,1118,s,20));
  text(g,o.lx,o.ly,"Count",21.5,{r:-90});
  const lg=g.append("g");
  lg.append("rect").attr("x",o.lg).attr("y",o.lgT).attr("width",169).attr("height",150).attr("rx",3).attr("fill","#fff").attr("stroke","#ccc");
  text(lg,o.lg+84,o.lgT+16,"Category",18.5);
  categories.forEach((s,i)=>{const yy=o.lgT+44+i*29;
    lg.append("rect").attr("x",o.lg+8).attr("y",yy-7).attr("width",40).attr("height",14).attr("fill",catColors[i]);
    text(lg,o.lg+65,yy,s,20,{a:"start"});});
}
bars({genes:tGenes,series:[tMismatch,tT4,tSecondary,tMatch],L:96,R:668,T:698,B:1096,pad:0,band:286,max:4000,y0:1096,yM:720,ticks:tTicks,lx:20,ly:897,lg:489,lgT:708});
bars({genes:bGenes,series:[bMismatch,bT4,bSecondary,bMatch],L:783,R:1354,T:700,B:1096,pad:0,band:285.5,max:1200,y0:1097,yM:716,ticks:bTicks,lx:707,ly:898,lg:793,lgT:710});
</script></body></html>
